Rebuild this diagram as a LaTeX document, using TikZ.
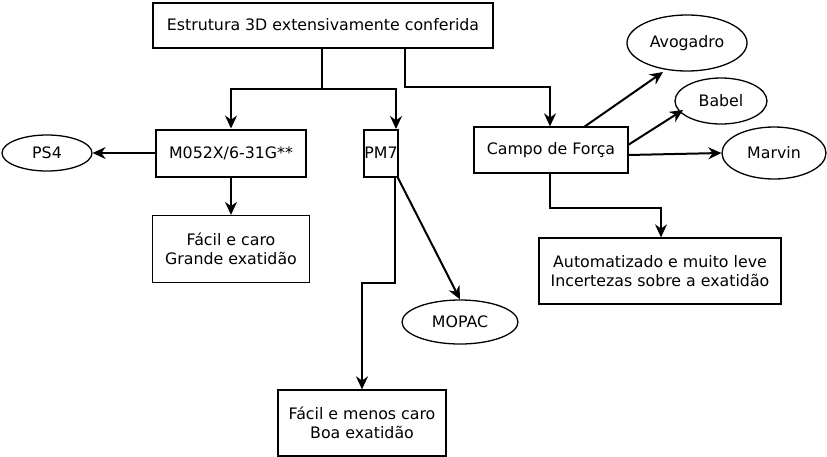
\documentclass[tikz,border=0pt]{standalone}
\usepackage{fontspec}
\setmainfont{DejaVu Sans}
\usetikzlibrary{arrows.meta,shapes.geometric}
\begin{document}
\begin{tikzpicture}[x=1pt,y=-1pt,font=\fontsize{15.8}{19}\selectfont,
 box/.style={draw,line width=2pt,rectangle,inner sep=0pt,align=center},
 bx/.style={draw,line width=1.3pt,rectangle,inner sep=0pt,align=center},
 ell/.style={draw,line width=1.3pt,ellipse,inner sep=0pt},
 arr/.style={line width=1.3pt,-{Stealth[length=13pt,width=12pt]}},
 tarr/.style={line width=2pt,-{Stealth[length=13pt,width=12pt]}}]
\useasboundingbox (0,0) rectangle (827,456);
\node[box,minimum width=340,minimum height=45] (top) at (323,25) {Estrutura 3D extensivamente conferida};
\node[box,minimum width=150,minimum height=47] (m) at (231,153) {M052X/6-31G**};
\node[box,minimum width=32,minimum height=47] (pm) at (381,153) {PM7};
\node[bx,minimum width=154,minimum height=46] (cf) at (551,150) {Campo de Força};
\node[ell,minimum width=90,minimum height=36] (ps) at (47,153) {PS4};
\node[bx,minimum width=157,minimum height=67] (fc) at (231,249) {Fácil e caro\\Grande exatidão};
\node[bx,minimum width=242,minimum height=66] (au) at (660,271) {Automatizado e muito leve\\Incertezas sobre a exatidão};
\node[ell,minimum width=116,minimum height=44] (mo) at (460,322) {MOPAC};
\node[bx,minimum width=168,minimum height=66] (fm) at (362,423) {Fácil e menos caro\\Boa exatidão};
\node[ell,minimum width=120,minimum height=56] (av) at (687,43) {Avogadro};
\node[ell,minimum width=92,minimum height=46] (ba) at (721,101) {Babel};
\node[ell,minimum width=104,minimum height=52] (ma) at (774,153) {Marvin};
\coordinate (j1) at (322,89);
\draw[line width=1.3pt] (top.south -| j1) -- (j1);
\draw[arr] (j1) -| (m.north);
\draw[tarr] (j1) -| (396,129);
\draw[tarr] (405,47) |- (550,87) -- (cf.north -| 550,0);
\draw[arr] (m.west) -- (ps.east);
\draw[arr] (m.south) -- (fc.north);
\draw[tarr] (397,176) -- (mo.north);
\draw[tarr] (395,176) |- (362,283) -- (fm.north);
\draw[arr] (550,173) |- (661,208) -- (au.north -| 661,0);
\draw[tarr] (584,127) -- (663,72);
\draw[tarr] (628,145) -- (683,110);
\draw[tarr] (628,155) -- (ma.west);
\end{tikzpicture}
\end{document}
